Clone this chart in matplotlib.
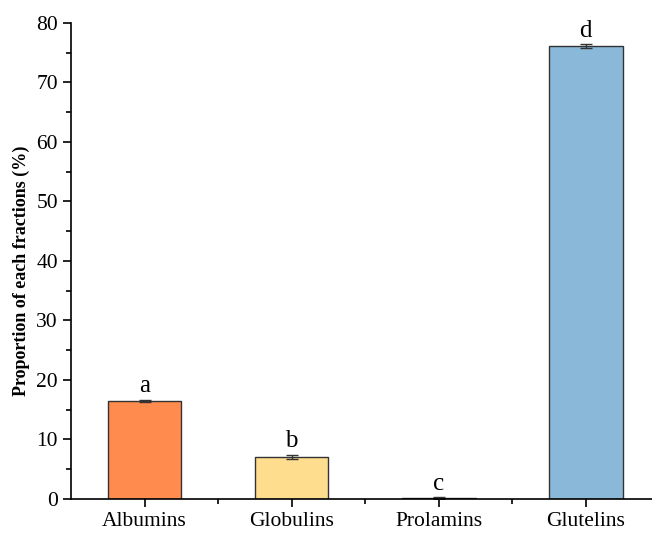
import numpy as np
import matplotlib.pyplot as plt
from matplotlib.ticker import MultipleLocator

fractions = ['Albumins', 'Globulins', 'Prolamins', 'Glutelins']
proportion = [16.5, 7.05, 0.15, 76.1]
sd = [0.2, 0.4, 0.1, 0.3]
letters = ['a', 'b', 'c', 'd']
colors = ['#FF8C4E', '#FEDD8E', '#8B8B8B', '#8AB8D9']

plt.rcParams['font.family'] = ['Liberation Serif', 'DejaVu Serif']

fig = plt.figure(figsize=(6.52, 5.33), dpi=100)
ax = fig.add_axes([0.109, 0.064, 0.891, 0.893])

x = np.arange(len(fractions))
ax.bar(x, proportion, width=0.5, color=colors, edgecolor='#333333', linewidth=1.0,
       yerr=sd, error_kw=dict(ecolor='#333333', elinewidth=1.0, capsize=4, capthick=1.0))

for xi, v, e, lab in zip(x, proportion, sd, letters):
    ax.text(xi, v + e + 0.4, lab, ha='center', va='bottom', fontsize=18)

ax.set_xlim(-0.5, 3.45)
ax.set_ylim(0, 80)
ax.set_xticks(x)
ax.set_xticklabels(fractions)
ax.set_xticks(x[:-1] + 0.5, minor=True)
ax.yaxis.set_major_locator(MultipleLocator(10))
ax.yaxis.set_minor_locator(MultipleLocator(5))

ax.spines['top'].set_visible(False)
ax.spines['right'].set_visible(False)
for s in ['left', 'bottom']:
    ax.spines[s].set_linewidth(1.2)

ax.tick_params(axis='both', which='major', direction='out', length=6, width=1.2, labelsize=15.5)
ax.tick_params(axis='both', which='minor', direction='out', length=3.5, width=1.2)
ax.set_ylabel('Proportion of each fractions (%)', fontsize=13, fontweight='bold')
ax.yaxis.set_label_coords(-0.07, 0.48)

fig.savefig('out.png', dpi=100)
